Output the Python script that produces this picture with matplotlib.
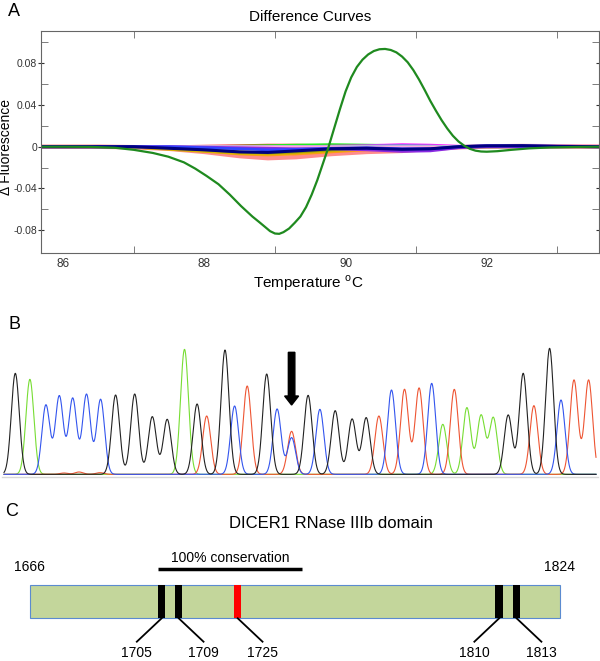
import numpy as np
import matplotlib
matplotlib.use('Agg')
import matplotlib.pyplot as plt
from matplotlib.patches import Rectangle, FancyArrow

plt.rcParams['font.family'] = ['Liberation Sans', 'DejaVu Sans']
plt.rcParams['mathtext.fontset'] = 'custom'
plt.rcParams['mathtext.rm'] = 'Liberation Sans'

# ---------------- Panel A data: difference curves ----------------
green_temp = [85.7, 86.0, 86.4, 86.73, 87.0, 87.27, 87.49, 87.71, 87.87, 88.03, 88.2, 88.36,
              88.52, 88.68, 88.78, 88.86, 88.93, 89.0, 89.06, 89.12, 89.2, 89.28, 89.36,
              89.44, 89.52, 89.6, 89.68, 89.76, 89.84, 89.92, 90.0, 90.08, 90.16, 90.24,
              90.32, 90.4, 90.48, 90.56, 90.64, 90.72, 90.8, 90.88, 90.96, 91.04, 91.12,
              91.2, 91.28, 91.36, 91.44, 91.52, 91.6, 91.68, 91.76, 91.84, 91.92, 92.0,
              92.15, 92.35, 92.6, 92.9, 93.3, 93.6]
green_diff = [0.0, 0.0, -0.0002, -0.001, -0.003, -0.006, -0.0096, -0.015, -0.021, -0.028,
              -0.036, -0.046, -0.057, -0.067, -0.0725, -0.077, -0.081, -0.0833, -0.0836,
              -0.082, -0.0785, -0.073, -0.067, -0.058, -0.046, -0.032, -0.016, 0.0, 0.018,
              0.036, 0.053, 0.0665, 0.0765, 0.0835, 0.0885, 0.0918, 0.0935, 0.0938, 0.0928,
              0.0905, 0.0865, 0.081, 0.0735, 0.0645, 0.0545, 0.044, 0.0345, 0.0255, 0.0175,
              0.0105, 0.005, 0.001, -0.002, -0.0038, -0.0046, -0.0048, -0.0043, -0.003,
              -0.0016, -0.0007, -0.0002, 0.0]

bg_temp = [85.7, 86.5, 87.0, 87.5, 88.0, 88.5, 88.9, 89.3, 89.8, 90.3, 90.8, 91.2, 91.6,
           92.0, 92.5, 93.0, 93.6]
salmon_diff = [0, 0, -0.0005, -0.002, -0.005, -0.009, -0.011, -0.010, -0.007, -0.005, -0.004,
               -0.002, -0.0005, 0.0003, 0.0006, 0.0004, 0.0002]
orange_diff = [0, 0, -0.0005, -0.002, -0.004, -0.007, -0.008, -0.007, -0.005, -0.003, -0.002,
               -0.001, 0, 0, 0, 0, 0]
gold_diff = [0, 0, -0.0005, -0.0025, -0.0045, -0.0065, -0.007, -0.006, -0.004, -0.002, -0.001,
             -0.0005, 0, 0, 0, 0, 0]
olive_diff = [0, 0, 0, -0.001, -0.003, -0.005, -0.006, -0.005, -0.003, -0.002, -0.001, 0, 0,
              0, 0, 0, 0]
red_diff = [0, 0, 0, 0, 0.0005, 0.001, 0.0015, 0.0015, 0.001, 0.0005, 0, 0, 0, 0, 0, 0, 0]
lime_diff = [0, 0, 0, 0, 0, 0.0005, 0.001, 0.0015, 0.002, 0.0015, 0.001, 0.0005, 0, 0, 0, 0, 0]
magenta_diff = [0, 0, 0, 0, 0, 0, 0, 0, 0.0005, 0.001, 0.002, 0.0015, 0.0005, 0, 0, 0, 0]
cyan_diff = [0, 0, 0, 0, 0, 0, 0, 0, 0, 0.0005, 0.0008, 0.0005, 0, 0, 0, 0, 0]
purple_diff = [0, 0, 0, 0, -0.0005, -0.001, -0.0015, -0.002, -0.002, -0.003, -0.0045, -0.004,
               -0.001, 0, 0, 0, 0]
blue_diff = [0, 0, 0, 0, -0.001, -0.002, -0.003, -0.0025, -0.0015, -0.001, -0.002, -0.002, 0,
             0.001, 0.0008, 0.0003, 0]
pink_diff = [0, 0, 0, 0, 0, 0, 0, 0, 0, 0, 0, 0, 0, 0.0005, 0.001, 0.001, 0.0008]
navy_diff = [0, 0, 0, -0.0015, -0.003, -0.005, -0.0055, -0.004, -0.002, -0.0015, -0.0025,
             -0.002, 0.0, 0.0008, 0.001, 0.0004, 0]

a_xticks = [86, 88, 90, 92]
a_yticks = [-0.08, -0.04, 0, 0.04, 0.08]
a_yticklabels = ['-0.08', '-0.04', '0', '0.04', '0.08']

# ---------------- Panel B data: sequencing trace peaks ----------------
g_pos = [15.3, 115.6, 134.7, 152.3, 167.2, 197.1, 225.0, 266.7, 308.1, 335.2, 352.1, 366.2,
         508.2, 523.2, 549.6]
g_height = [303, 238, 241, 173, 165, 211, 373, 301, 237, 191, 166, 170, 178, 303, 378]
a_pos = [29.9, 184.5, 442.8, 466.9, 481.1, 493.3]
a_height = [285, 375, 150, 200, 177, 170]
c_pos = [45.9, 59.3, 72.7, 86.5, 100.6, 234.6, 277.1, 291.6, 319.9, 391.5, 431.7, 561.0]
c_height = [208, 235, 228, 240, 225, 205, 196, 110, 195, 253, 273, 223]
t_pos = [64.0, 79.0, 100.0, 206.7, 247.2, 291.6, 378.9, 404.5, 419.1, 454.3, 533.9, 574.0, 588.6]
t_height = [4, 7, 5, 175, 265, 129, 175, 255, 259, 255, 206, 283, 283]
variant_pos = 291.6

# ---------------- Panel C data: domain diagram ----------------
domain_start, domain_end = 1666, 1824
cons_start, cons_end = 1704.2, 1747.3
mut_labels = ['1705', '1709', '1725', '1810', '1813']
mut_drawn = [1705.3, 1710.4, 1728.0, 1806.0, 1811.2]
mut_colors = ['black', 'black', 'red', 'black', 'black']
leader_dir = [-1, 1, 1, -1, 1]

W, H = 600, 661
fig = plt.figure(figsize=(6, 6.61), dpi=100)

# ================= Panel A =================
axA = fig.add_axes([40.6 / W, 1 - 252.7 / H, 558.4 / W, 222 / H])
bg = [(salmon_diff, '#ff8c8c', 3.2), (orange_diff, '#ff9a1a', 2.0), (gold_diff, '#d8b400', 2.0),
      (olive_diff, '#9a9a00', 2.0), (red_diff, '#ff3030', 2.0), (lime_diff, '#22ee22', 2.0),
      (magenta_diff, '#ff22ff', 2.0), (cyan_diff, '#22cccc', 2.0), (pink_diff, '#ffaadd', 2.0),
      (purple_diff, '#8a2be2', 2.0), (blue_diff, '#3344ff', 2.0)]
for vals, col, lw in bg:
    axA.plot(bg_temp, vals, color=col, lw=lw, solid_capstyle='butt')
axA.plot(bg_temp, navy_diff, color='#000080', lw=2.2)
axA.plot(green_temp, green_diff, color='#1f8a1f', lw=1.6, solid_joinstyle='round')
axA.set_xlim(85.68, 93.59)
axA.set_ylim(-0.1017, 0.1113)
axA.set_xticks(a_xticks)
axA.set_xticks([87, 89, 91, 93], minor=True)
axA.set_yticks(a_yticks)
axA.set_yticklabels(a_yticklabels)
axA.set_yticks([-0.06, -0.02, 0.02, 0.06, 0.1], minor=True)
axA.tick_params(axis='x', which='major', length=0, labelsize=8.5, pad=4, colors='#333333')
axA.tick_params(axis='x', which='minor', direction='in', length=5, top=True, bottom=True,
                color='#666666')
axA.tick_params(axis='y', which='major', direction='inout', length=5, right=True,
                labelsize=7.5, pad=0, colors='#333333')
axA.tick_params(axis='y', which='minor', direction='in', length=5, left=True, right=True,
                color='#666666')
for sp in axA.spines.values():
    sp.set_color('#666666')
    sp.set_linewidth(0.8)
fig.text(310 / W, 1 - 17.3 / H, 'Difference Curves', ha='center', va='center', fontsize=11)
fig.text(308 / W, 1 - 282.7 / H, 'Temperature $^{\\mathrm{o}}$C', ha='center', va='center',
         fontsize=11)
fig.text(6.5 / W, 1 - 147 / H, '\u0394 Fluorescence', ha='center', va='center', rotation=90,
         fontsize=10)
fig.text(14 / W, 1 - 11.7 / H, 'A', ha='center', va='center', fontsize=13)

# ================= Panel B =================
axB = fig.add_axes([0, 1 - 490 / H, 1, 150 / H])
axB.set_xlim(0, 600)
axB.set_ylim(-47, 403)
axB.axis('off')
xs = np.linspace(4, 596, 2400)
sigma = 4.0
axB.plot([2, 598], [-7, -7], color='#d8d8d8', lw=1.0)
for pos, hts, col in [(a_pos, a_height, '#77dd33'), (t_pos, t_height, '#ee5533'),
                      (c_pos, c_height, '#3355ee'), (g_pos, g_height, '#222222')]:
    trace = np.zeros_like(xs)
    for p, h in zip(pos, hts):
        trace += h * np.exp(-0.5 * ((xs - p) / sigma) ** 2)
    axB.plot(xs, trace, color=col, lw=0.8)
axB.add_patch(FancyArrow(variant_pos, 366, 0, -158, width=6.5, head_width=14, head_length=27,
                         length_includes_head=True, color='black'))
fig.text(14.5 / W, 1 - 325 / H, 'B', ha='center', va='center', fontsize=13)

# ================= Panel C =================
px_per_res = 529.6 / (domain_end - domain_start)
x0 = domain_start - 29.9 / px_per_res
x1 = domain_start + (600 - 29.9) / px_per_res
axC = fig.add_axes([0, 0, 1, 1])
axC.set_xlim(x0, x1)
axC.set_ylim(H, 0)
axC.axis('off')
axC.add_patch(Rectangle((domain_start, 585), domain_end - domain_start, 33.3,
                        facecolor='#c3d69b', edgecolor='#5b8bd0', lw=0.8))
for pos, lab, col, d in zip(mut_drawn, mut_labels, mut_colors, leader_dir):
    axC.add_patch(Rectangle((pos - 1.1, 585), 2.2, 33.3, facecolor=col, edgecolor='none'))
    xe = pos + d * 7.4
    axC.plot([pos, xe], [618.3, 641.7], color='black', lw=1.3)
    axC.text(xe, 653, lab, ha='center', va='center', fontsize=10)
axC.plot([cons_start, cons_end], [569.3, 569.3], color='black', lw=2.5, solid_capstyle='butt')
axC.text((cons_start + cons_end) / 2, 557.7, '100% conservation', ha='center', va='center',
         fontsize=10)
axC.text(domain_start, 566.7, str(domain_start), ha='center', va='center', fontsize=10)
axC.text(domain_end, 566.7, str(domain_end), ha='center', va='center', fontsize=10)
fig.text(331 / W, 1 - 523.3 / H, 'DICER1 RNase IIIb domain', ha='center', va='center',
         fontsize=12)
fig.text(11.5 / W, 1 - 511.7 / H, 'C', ha='center', va='center', fontsize=13)

fig.savefig('out.png', dpi=100)
